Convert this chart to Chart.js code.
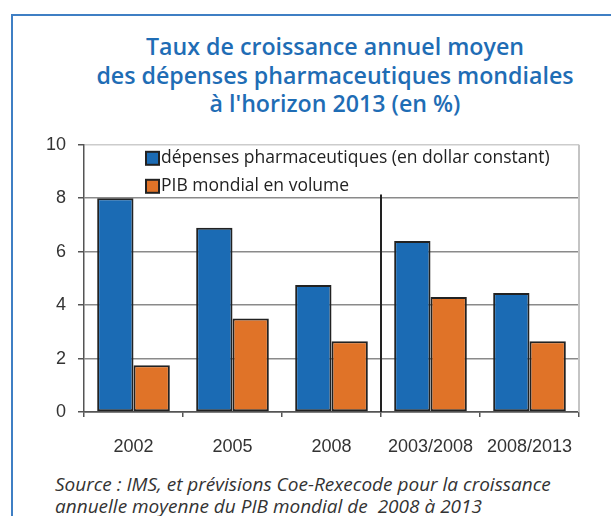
<!DOCTYPE html>
<html>
<head>
<meta charset="utf-8">
<script src="https://cdn.jsdelivr.net/npm/chart.js@4"></script>
<style>
  body { margin: 0; width: 611px; height: 516px; background: #fff; overflow: hidden; position: relative; }
  .frame { position: absolute; left: 11px; top: 14px; width: 700px; height: 600px;
           border-left: 2px solid #3f7fc4; border-top: 2px solid #3f7fc4; }
  .titre { position: absolute; left: 0; top: 32px; width: 670px; text-align: center;
           font: 600 23.2px 'Open Sans', sans-serif; line-height: 28.5px; color: #1f6db5; }
  .source { position: absolute; left: 55px; top: 473px; font: italic 19px 'Open Sans', sans-serif;
            line-height: 22px; color: #333; white-space: nowrap; }
  #wrap { position: absolute; left: 0; top: 122px; width: 611px; height: 338px; }
</style>
</head>
<body>
<div class="frame"></div>
<div class="titre">Taux de croissance annuel moyen<br>des dépenses pharmaceutiques mondiales<br>à l'horizon 2013 (en %)</div>
<div id="wrap"><canvas id="graphe"></canvas></div>
<div class="source">Source : IMS, et prévisions Coe-Rexecode pour la croissance<br>annuelle moyenne du PIB mondial de&nbsp; 2008 à 2013</div>
<script>
const categories = ['2002', '2005', '2008', '2003/2008', '2008/2013'];
const depenses = [8.0, 6.9, 4.75, 6.4, 4.45];
const pib = [1.75, 3.5, 2.65, 4.3, 2.65];
const yTicks = [0, 2, 4, 6, 8, 10];
const noms = ['dépenses pharmaceutiques (en dollar constant)', 'PIB mondial en volume'];
const couleurs = ['#1b6bb4', '#e07328'];

// legende dessinee dans la zone du graphique + trait de separation
const extras = {
  id: 'extras',
  afterDraw(chart) {
    const c = chart.ctx;
    const a = chart.chartArea;
    const x = chart.scales.x, y = chart.scales.y;
    c.save();
    // bordure droite
    c.strokeStyle = '#c4c4c4';
    c.lineWidth = 2;
    c.beginPath();
    c.moveTo(a.right, a.top);
    c.lineTo(a.right, a.bottom);
    c.stroke();
    // separateur entre historique et moyennes
    const sx = (x.getPixelForValue(2) + x.getPixelForValue(3)) / 2;
    c.strokeStyle = '#222';
    c.lineWidth = 2;
    c.beginPath();
    c.moveTo(sx, y.getPixelForValue(8.14));
    c.lineTo(sx, a.bottom);
    c.stroke();
    // legende
    c.font = '17.5px "Open Sans", sans-serif';
    c.textBaseline = 'middle';
    chart.data.datasets.forEach((ds, i) => {
      const ly = a.top + 13 + i * 28;
      c.fillStyle = ds.backgroundColor;
      c.fillRect(a.left + 62, ly - 6, 13, 13);
      c.strokeStyle = '#222';
      c.lineWidth = 2;
      c.strokeRect(a.left + 62, ly - 6, 13, 13);
      c.fillStyle = '#222';
      c.fillText(ds.label, a.left + 77, ly);
    });
    c.restore();
  }
};

new Chart(document.getElementById('graphe'), {
  type: 'bar',
  data: {
    labels: categories,
    datasets: [
      { label: noms[0], data: depenses, backgroundColor: couleurs[0] },
      { label: noms[1], data: pib, backgroundColor: couleurs[1] }
    ]
  },
  options: {
    responsive: true,
    maintainAspectRatio: false,
    animation: false,
    layout: { padding: { top: 6, right: 32, left: 0, bottom: 0 } },
    datasets: {
      bar: { categoryPercentage: 0.734, barPercentage: 1.0, borderColor: '#222', borderWidth: 2, borderSkipped: false }
    },
    scales: {
      x: {
        grid: { display: true, drawOnChartArea: false, offset: true, tickLength: 5, tickColor: '#555', lineWidth: 1.5 },
        border: { display: true, color: '#555', width: 1.5 },
        ticks: { color: '#333', font: { family: 'Liberation Sans, Arial', size: 18 }, padding: 19 },
        afterFit(s) { s.height = 48; }
      },
      y: {
        min: 0, max: 10,
        afterBuildTicks(s) { s.ticks = yTicks.map(v => ({ value: v })); },
        grid: {
          color: ctx => ctx.tick.value === 10 ? '#cccccc' : (ctx.tick.value === 0 ? '#555' : '#8a8a8a'),
          lineWidth: 1.5, tickLength: 6, tickColor: '#555'
        },
        border: { display: true, color: '#555', width: 1.5 },
        ticks: { color: '#333', font: { family: 'Liberation Sans, Arial', size: 18 }, padding: 12 },
        afterFit(s) { s.width = 84; }
      }
    },
    plugins: {
      legend: { display: false },
      tooltip: { enabled: false }
    }
  },
  plugins: [extras]
});
</script>
</body>
</html>
